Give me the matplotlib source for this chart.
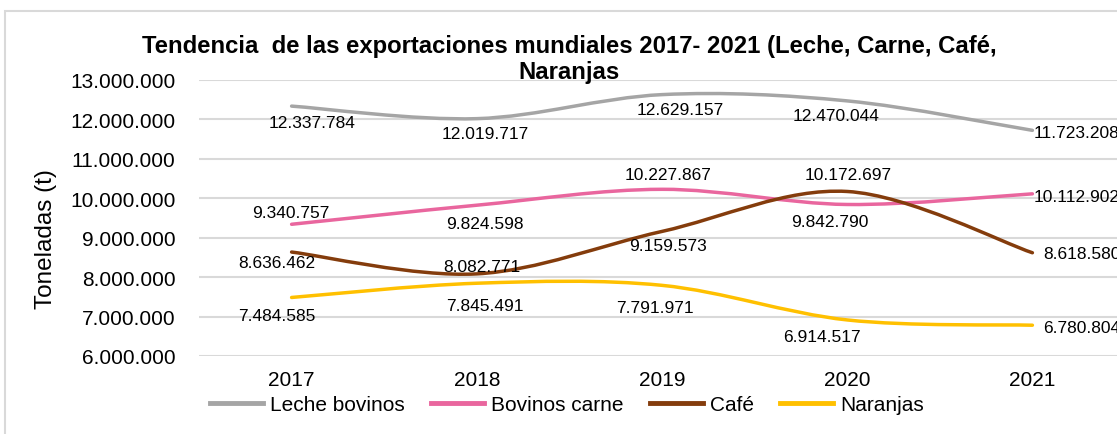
import matplotlib.pyplot as plt
from matplotlib.path import Path
from matplotlib.patches import PathPatch, Rectangle
from matplotlib.lines import Line2D
from matplotlib.ticker import FuncFormatter

plt.rcParams['font.family'] = ['Liberation Sans', 'DejaVu Sans']

years = ['2017', '2018', '2019', '2020', '2021']
leche = [12337784, 12019717, 12629157, 12470044, 11723208]
bovinos = [9340757, 9824598, 10227867, 9842790, 10112902]
cafe = [8636462, 8082771, 9159573, 10172697, 8618580]
naranjas = [7484585, 7845491, 7791971, 6914517, 6780804]
series_names = ['Leche bovinos', 'Bovinos carne', 'Café', 'Naranjas']
title_lines = ['Tendencia  de las exportaciones mundiales 2017- 2021 (Leche, Carne, Café,',
               'Naranjas']

colors = ['#A5A5A5', '#E9669E', '#843C0C', '#FFC000']
# label offsets in pixels (dx, dy down) from each point
label_off = [
    [(20, 16), (8, 15), (18, 15), (-11, 15), (1, 2)],
    [(-1, -12), (8, 18), (6, -15), (-17, 17), (1, 3)],
    [(-15, 10), (5, -7), (6, 14), (1, -17), (11, 1)],
    [(-15, 18), (8, 22), (-7, 22), (-25, 17), (11, 2)],
]


def smooth_path(xs, ys):
    # excel-like smoothed line: cubic bezier segments (catmull-rom style)
    pts = list(zip(xs, ys))
    n = len(pts)
    verts = [pts[0]]
    codes = [Path.MOVETO]
    for i in range(n - 1):
        p0 = pts[i - 1] if i > 0 else pts[i]
        p1 = pts[i]
        p2 = pts[i + 1]
        p3 = pts[i + 2] if i + 2 < n else pts[i + 1]
        c1 = (p1[0] + (p2[0] - p0[0]) / 6, p1[1] + (p2[1] - p0[1]) / 6)
        c2 = (p2[0] - (p3[0] - p1[0]) / 6, p2[1] - (p3[1] - p1[1]) / 6)
        verts += [c1, c2, p2]
        codes += [Path.CURVE4] * 3
    return Path(verts, codes)


W, H = 1117, 435
fig = plt.figure(figsize=(W / 100, H / 100), dpi=100)
ax = fig.add_axes([199 / W, (H - 357) / H, (1125 - 199) / W, (357 - 81) / H])

xs = list(range(len(years)))
all_series = [leche, bovinos, cafe, naranjas]
for vals, col, offs in zip(all_series, colors, label_off):
    ax.add_patch(PathPatch(smooth_path(xs, vals), fill=False, edgecolor=col,
                           lw=2.5, capstyle='round', zorder=3))
    for i, v in enumerate(vals):
        dx, dy = offs[i]
        ha = 'left' if i == len(vals) - 1 else 'center'
        ax.annotate(f"{v:,}".replace(',', '.'), xy=(i, v), xytext=(dx, -dy),
                    textcoords='offset pixels', ha=ha, va='center',
                    fontsize=12.5, color='#000000', zorder=4, annotation_clip=False)

ax.set_xlim(-0.5, 4.5)
ax.set_ylim(6000000, 13000000)
ax.set_yticks(range(6000000, 13000001, 1000000))
ax.yaxis.set_major_formatter(FuncFormatter(lambda v, p: f"{int(v):,}".replace(',', '.')))
ax.set_xticks(xs)
ax.set_xticklabels(years)
ax.tick_params(length=0, labelsize=15, colors='#000000')
ax.tick_params(axis='y', pad=17)
ax.tick_params(axis='x', pad=10)
ax.grid(axis='y', color='#D9D9D9', lw=1.5)
ax.set_axisbelow(True)
for s in ax.spines.values():
    s.set_visible(False)

fig.text(46 / W, 1 - 239 / H, 'Toneladas (t)', rotation=90, ha='center',
         va='center', fontsize=17.5)
# title drawn as two lines, like the wrapped excel title
fig.text(569 / W, 1 - 46 / H, title_lines[0], ha='center', va='center',
         fontsize=17.2, fontweight='bold')
fig.text(569 / W, 1 - 72 / H, title_lines[1], ha='center', va='center',
         fontsize=17.2, fontweight='bold')

handles = [Line2D([], [], color=c, lw=3.5) for c in colors]
fig.legend(handles, series_names, loc='center', bbox_to_anchor=(567 / W, 1 - 406 / H),
           ncol=4, frameon=False, fontsize=15, handlelength=2.55,
           handletextpad=0.35, columnspacing=1.25)

fig.patches.append(Rectangle((5 / W, -0.1), 2, (H - 12) / H + 0.1,
                             transform=fig.transFigure, fill=False,
                             edgecolor='#D9D9D9', lw=1.5))

fig.savefig('out.png', dpi=100)
